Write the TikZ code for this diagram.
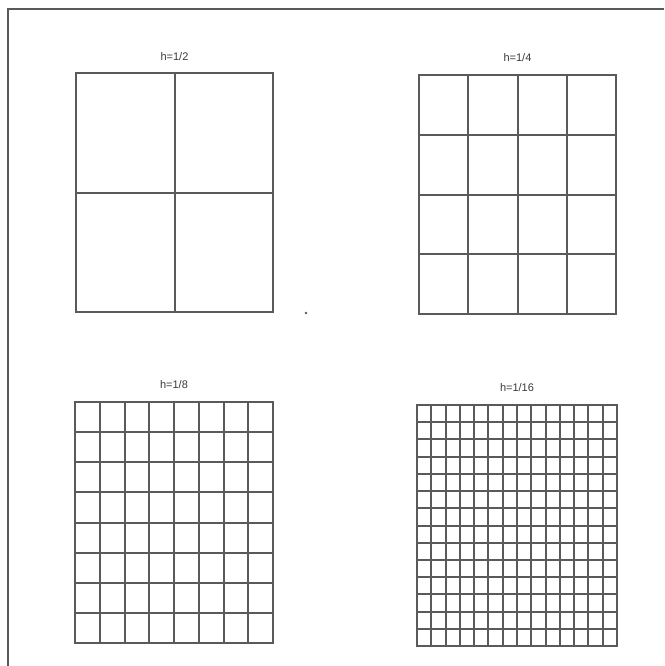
\documentclass[tikz,border=0pt]{standalone}
\usepackage{fontspec}
\setmainfont{Liberation Sans}
\definecolor{gridline}{HTML}{5A5A5A}
\definecolor{labeltext}{HTML}{3A3A3A}
\begin{document}
\begin{tikzpicture}[x=1pt,y=-1pt,
  gridpen/.style={draw=gridline,line width=2pt},
  framepen/.style={draw=gridline,line width=2pt},
  lbl/.style={font=\fontsize{11}{13}\selectfont,text=labeltext,inner sep=0pt}]
\useasboundingbox (0,0) rectangle (664,666);
\fill[white] (0,0) rectangle (664,666);
% frame (top and left edges)
\draw[framepen] (8,666) -- (8,9) -- (664,9);
% grids: left top right bottom cells
\foreach \xa/\ya/\xb/\yb/\n in {76/73/273/312/2, 419/75/616/314/4, 75/402/273/643/8, 417/405/617/646/14}{
  \foreach \i in {0,...,\n}{
    \pgfmathsetmacro{\gx}{round(\xa+(\xb-\xa)*\i/\n)}
    \pgfmathsetmacro{\gy}{round(\ya+(\yb-\ya)*\i/\n)}
    \draw[gridpen,line cap=rect] (\gx,\ya) -- (\gx,\yb);
    \draw[gridpen,line cap=rect] (\xa,\gy) -- (\xb,\gy);
  }
}
\node[lbl] (l1) at (174.5,57) {h=1/2};
\node[lbl] (l2) at (517.5,58) {h=1/4};
\node[lbl] (l3) at (174,385) {h=1/8};
\node[lbl] (l4) at (517,388) {h=1/16};
\fill[gridline] (306,313) circle (1.3);
\end{tikzpicture}
\end{document}
